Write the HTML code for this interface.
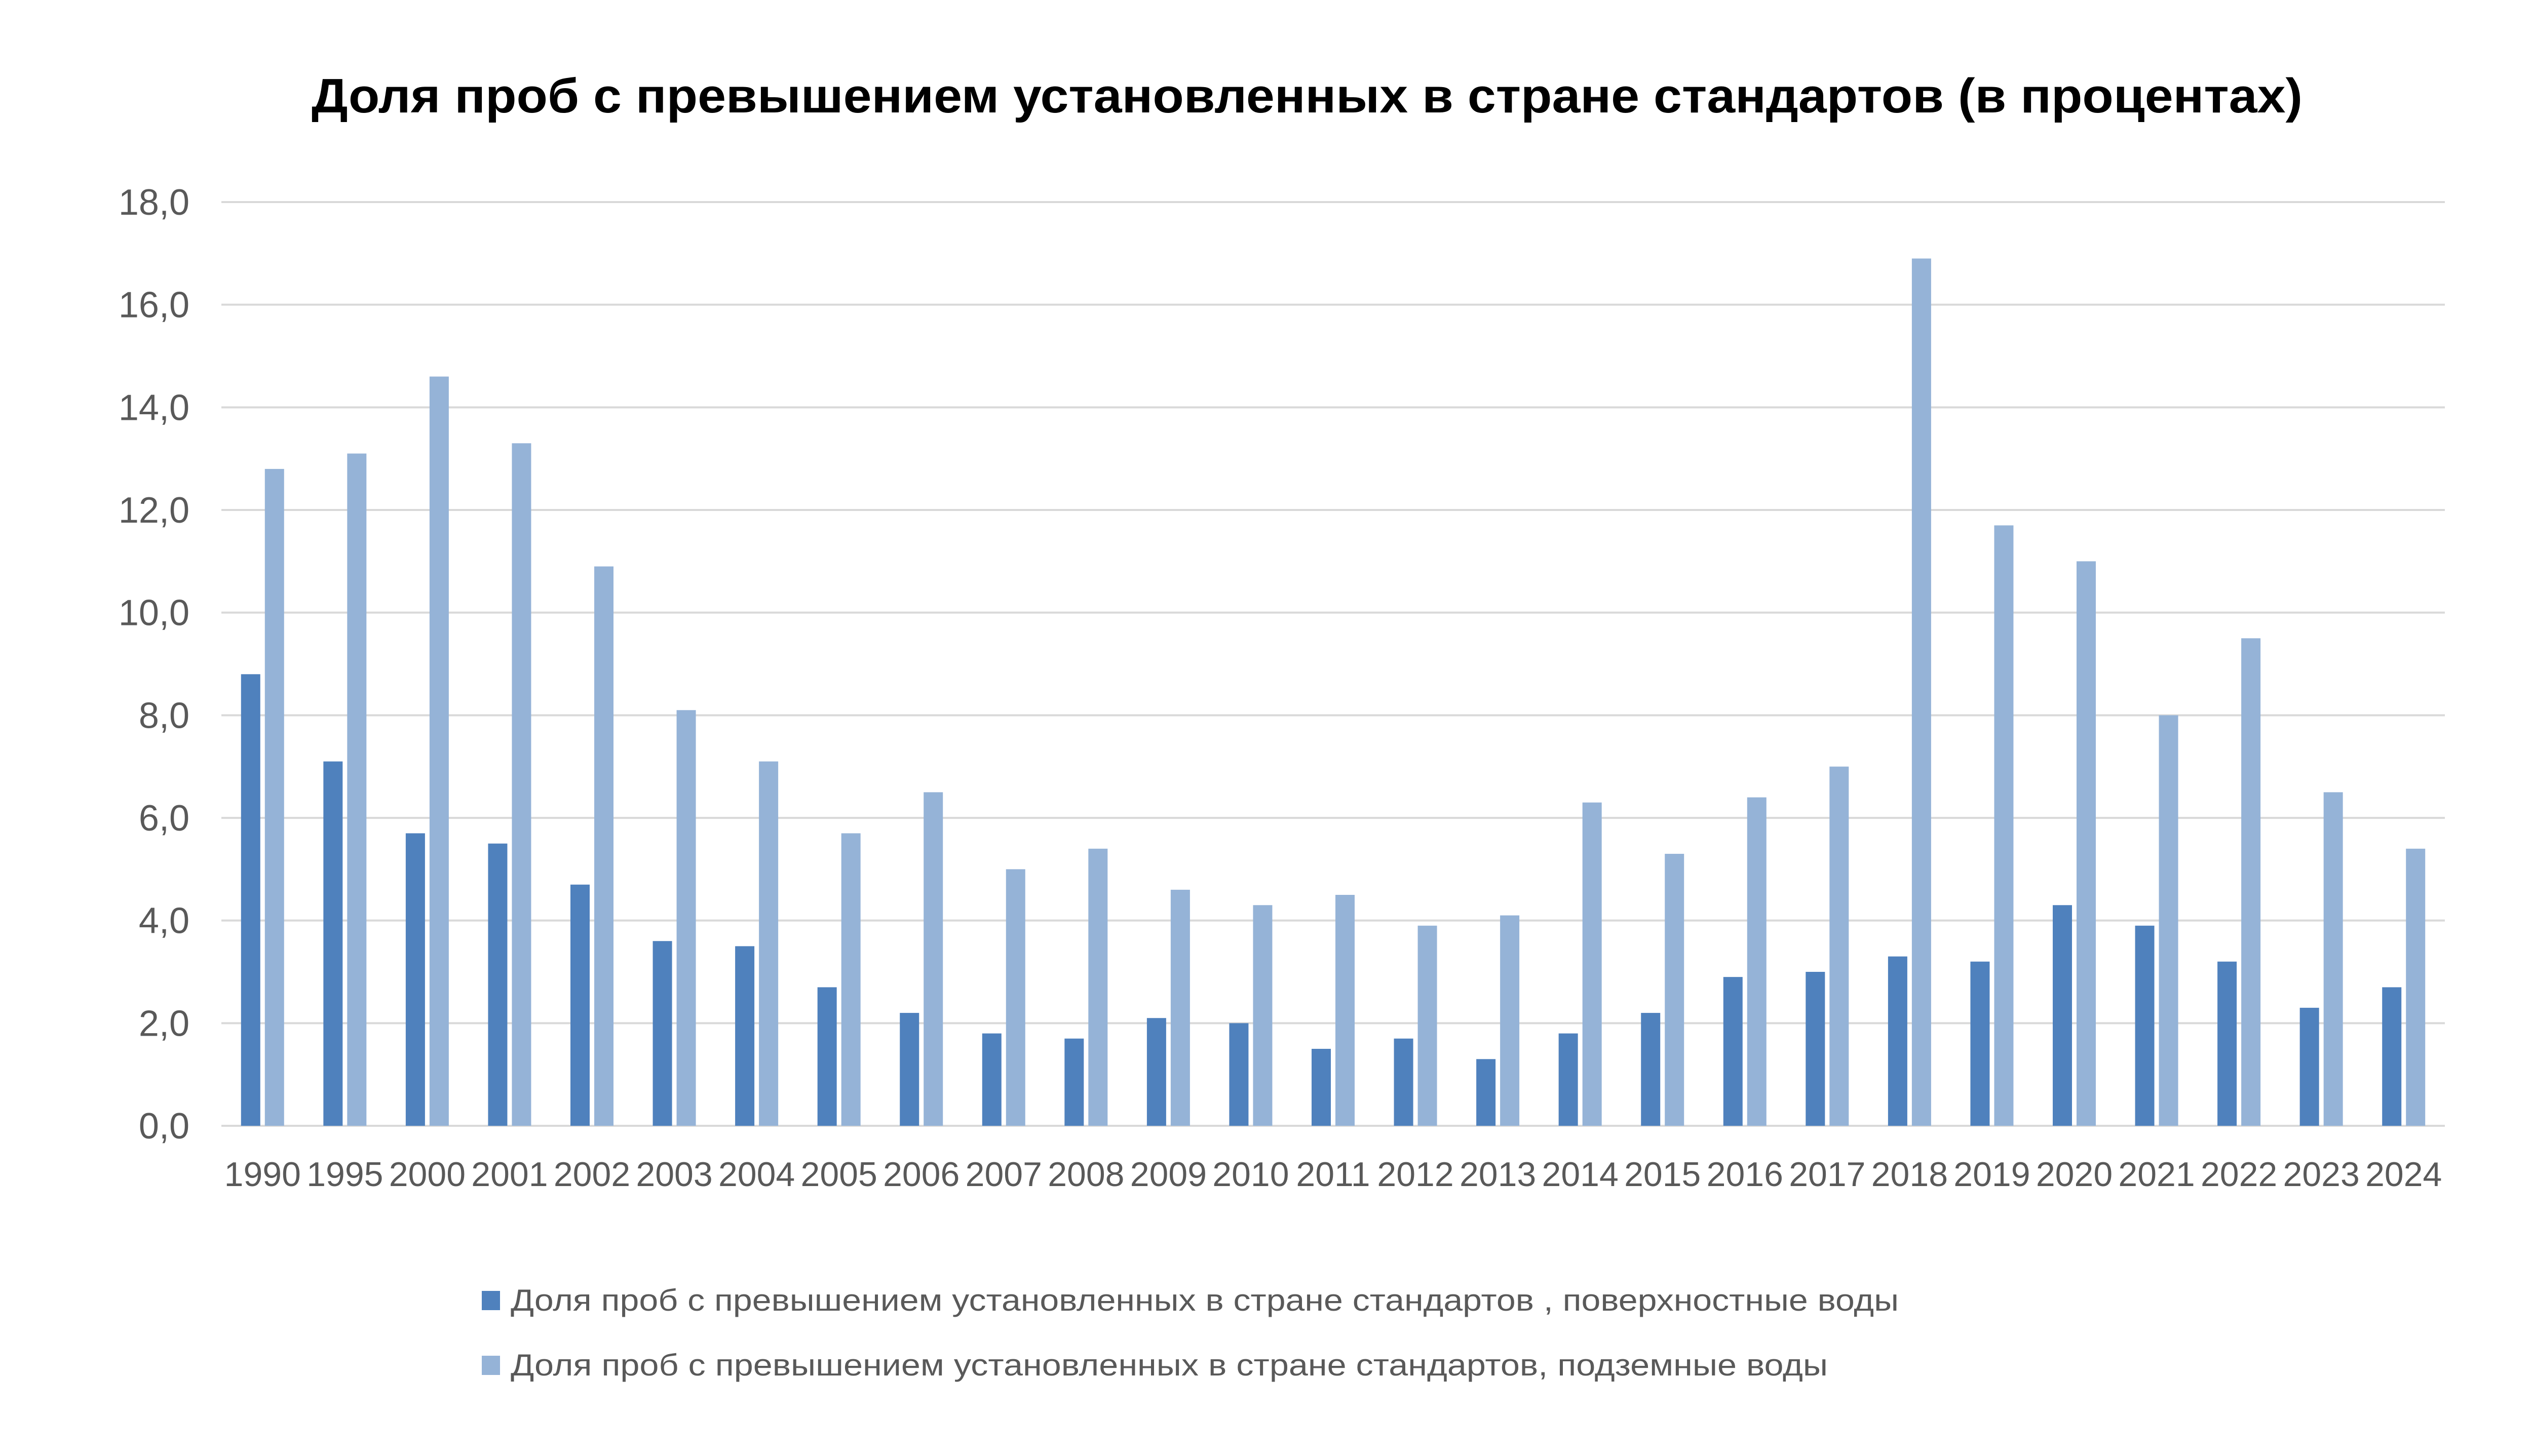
<!DOCTYPE html>
<html><head><meta charset="utf-8">
<style>
html,body{margin:0;padding:0;background:#fff;}
svg{display:block;}
text{font-family:"Liberation Sans","DejaVu Sans",sans-serif;}
</style></head>
<body>
<svg id="chart" width="5018" height="2875" viewBox="0 0 5018 2875" xmlns="http://www.w3.org/2000/svg">
<rect width="5018" height="2875" fill="#fff"/>
<text x="2580" y="222" text-anchor="middle" font-size="96" font-weight="bold" fill="#000" textLength="3930" lengthAdjust="spacingAndGlyphs">Доля проб с превышением установленных в стране стандартов (в процентах)</text>
<g id="grid"></g><g id="bars"></g><g id="yticks"></g><g id="xticks"></g>
<g>
<rect x="951" y="2549" width="36" height="38" fill="#4f81bd"/>
<text x="1008" y="2588" font-size="60" fill="#595959" textLength="2740" lengthAdjust="spacingAndGlyphs">Доля проб с превышением установленных в стране стандартов , поверхностные воды</text>
<rect x="951" y="2677" width="36" height="38" fill="#95b3d7"/>
<text x="1008" y="2716" font-size="60" fill="#595959" textLength="2600" lengthAdjust="spacingAndGlyphs">Доля проб с превышением установленных в стране стандартов, подземные воды</text>
</g>
</svg>
<script>
const categories = ["1990","1995","2000","2001","2002","2003","2004","2005","2006","2007","2008","2009","2010","2011","2012","2013","2014","2015","2016","2017","2018","2019","2020","2021","2022","2023","2024"];
const surfaceValues = [8.8,7.1,5.7,5.5,4.7,3.6,3.5,2.7,2.2,1.8,1.7,2.1,2.0,1.5,1.7,1.3,1.8,2.2,2.9,3.0,3.3,3.2,4.3,3.9,3.2,2.3,2.7];
const groundValues = [12.8,13.1,14.6,13.3,10.9,8.1,7.1,5.7,6.5,5.0,5.4,4.6,4.3,4.5,3.9,4.1,6.3,5.3,6.4,7.0,16.9,11.7,11.0,8.0,9.5,6.5,5.4];
const yTicks = [0,2,4,6,8,10,12,14,16,18];
const yTickLabels = ["0,0","2,0","4,0","6,0","8,0","10,0","12,0","14,0","16,0","18,0"];

const NS="http://www.w3.org/2000/svg";
const X0=437, X1=4826, Y0=2223, Y1=399, YMAX=18;
const band=(X1-X0)/categories.length;
function xScale(i){return X0+band*(i+0.5);}
function yScale(v){return Y0-(v/YMAX)*(Y0-Y1);}
function mk(tag,attrs,parent){const e=document.createElementNS(NS,tag);for(const k in attrs)e.setAttribute(k,attrs[k]);parent.appendChild(e);return e;}
const grid=document.getElementById('grid'),bars=document.getElementById('bars'),yt=document.getElementById('yticks'),xt=document.getElementById('xticks');
yTicks.forEach((t,i)=>{
  const l=mk('line',{x1:X0,x2:X1,y1:yScale(t),y2:yScale(t),stroke:'#d9d9d9','stroke-width':4},grid);
  
  
  const tx=mk('text',{x:374,y:yScale(t)+25,'text-anchor':'end','font-size':72,fill:'#595959'},yt);
  tx.textContent=yTickLabels[i];
  
  
});
const BW=38,GAP=9;
categories.forEach((c,i)=>{
  const cx=xScale(i);
  const b1=mk('rect',{x:cx-GAP/2-BW,y:yScale(surfaceValues[i]),width:BW,height:Y0-yScale(surfaceValues[i]),fill:'#4f81bd'},bars);
  
  
  const b2=mk('rect',{x:cx+GAP/2,y:yScale(groundValues[i]),width:BW,height:Y0-yScale(groundValues[i]),fill:'#95b3d7'},bars);
  
  
  const tx=mk('text',{x:cx,y:2342,'text-anchor':'middle','font-size':68,fill:'#595959'},xt);
  tx.textContent=c;
  
  
});
</script>
</body></html>
